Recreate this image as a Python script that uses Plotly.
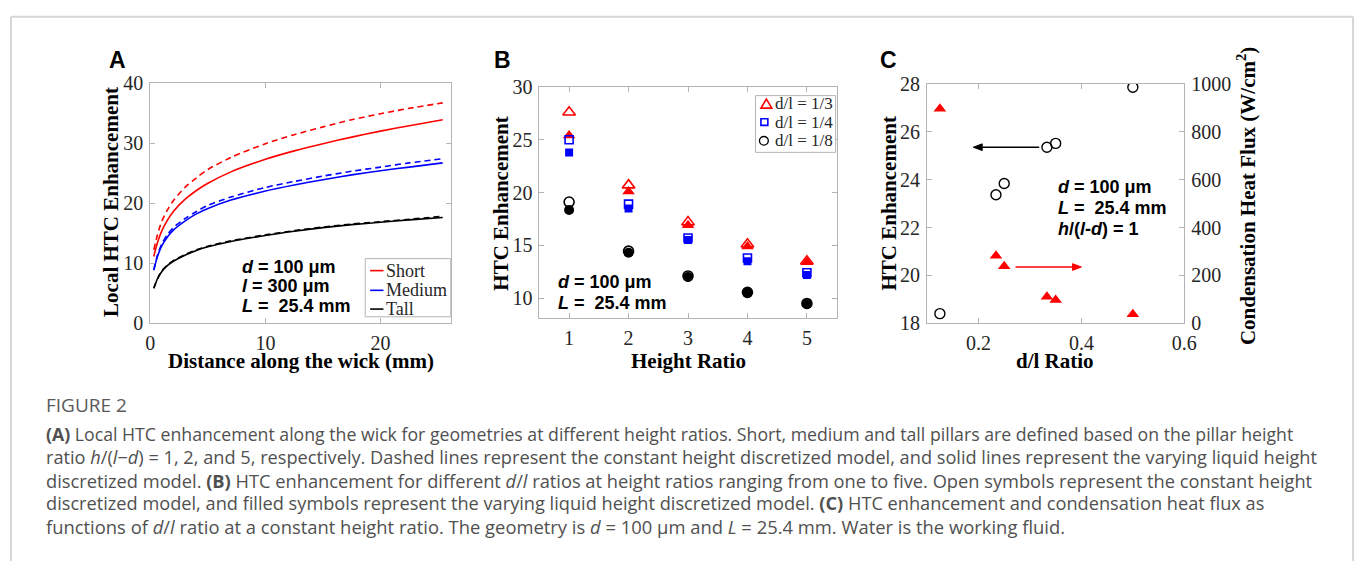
import plotly.graph_objects as go

W, H = 1370, 572
SERIF = "Liberation Serif"
SANS = "Liberation Sans"
BOX = "#b4b4b4"
TXT = "#262626"

# ---------------- Panel A data ----------------
dist_mm = [0.3, 0.6, 1, 1.5, 2, 3, 4, 5, 7, 10, 12.5, 15, 17.5, 20, 22.5, 25.4]
short_vary = [11.1, 13.3, 15.4, 17.2, 18.6, 20.6, 22.1, 23.3, 25.2, 27.3, 28.7, 29.9, 31.0, 32.0, 32.9, 33.9]
short_const = [12.2, 14.6, 17.0, 18.9, 20.4, 22.6, 24.2, 25.6, 27.6, 29.9, 31.4, 32.7, 33.9, 34.9, 35.8, 36.7]
medium_vary = [8.8, 11.0, 12.9, 14.4, 15.5, 17.0, 18.2, 19.1, 20.5, 22.0, 23.0, 23.9, 24.7, 25.4, 26.0, 26.7]
medium_const = [8.9, 11.2, 13.2, 14.8, 15.9, 17.4, 18.6, 19.6, 21.0, 22.6, 23.6, 24.5, 25.3, 26.0, 26.7, 27.4]
tall_vary = [5.8, 7.3, 8.6, 9.6, 10.3, 11.3, 12.1, 12.7, 13.6, 14.6, 15.3, 15.9, 16.4, 16.8, 17.2, 17.6]
tall_const = [5.8, 7.3, 8.7, 9.7, 10.4, 11.4, 12.2, 12.8, 13.7, 14.7, 15.4, 16.0, 16.5, 16.9, 17.3, 17.8]
legend_a = ["Short", "Medium", "Tall"]

# ---------------- Panel B data ----------------
height_ratio = [1, 2, 3, 4, 5]
b13_const = [27.6, 20.7, 17.2, 15.1, 13.5]
b13_vary = [25.4, 20.1, 16.9, 14.9, 13.4]
b14_const = [25.0, 18.9, 15.7, 13.8, 12.4]
b14_vary = [23.8, 18.5, 15.5, 13.5, 12.2]
b18_const = [19.1, 14.45, 12.1, 10.55, 9.5]
b18_vary = [18.35, 14.3, 12.0, 10.5, 9.45]
legend_b = ["d/l = 1/3", "d/l = 1/4", "d/l = 1/8"]

# ---------------- Panel C data ----------------
dl_ratio = [0.125, 0.234, 0.25, 0.333, 0.35, 0.5]
c_htc = [18.4, 23.37, 23.84, 25.36, 25.52, 27.87]
c_flux = [897, 282, 238, 111, 97, 38]

c_x_ticks = [0.2, 0.4, 0.6]
c_x_ticktext = ["0.2", "0.4", "0.6"]


def fx(px):
    return px / W


def fy(py):
    return 1 - py / H


fig = go.Figure()

# Panel A traces
for name, yv, yc, col in [("Short", short_vary, short_const, "#ff0000"),
                          ("Medium", medium_vary, medium_const, "#0000ff"),
                          ("Tall", tall_vary, tall_const, "#000000")]:
    fig.add_trace(go.Scatter(x=dist_mm, y=yc, mode="lines", xaxis="x", yaxis="y",
                             line=dict(color=col, width=1.6, dash="6px,4px", shape="spline", smoothing=0.8),
                             showlegend=False, name=name + " (constant height)"))
    fig.add_trace(go.Scatter(x=dist_mm, y=yv, mode="lines", xaxis="x", yaxis="y",
                             line=dict(color=col, width=1.6, shape="spline", smoothing=0.8),
                             showlegend=False, name=name))

# Panel B traces
for yconst, yvary, col, sym, size in [(b13_const, b13_vary, "#ff0000", "triangle-up", 11),
                                       (b14_const, b14_vary, "#0000ff", "square", 8),
                                       (b18_const, b18_vary, "#000000", "circle", 10)]:
    fig.add_trace(go.Scatter(x=height_ratio, y=yconst, mode="markers", xaxis="x2", yaxis="y2",
                             marker=dict(symbol=sym + "-open", size=size, color=col, line=dict(width=1.6, color=col)),
                             showlegend=False))
    fig.add_trace(go.Scatter(x=height_ratio, y=yvary, mode="markers", xaxis="x2", yaxis="y2",
                             marker=dict(symbol=sym, size=size, color=col, line=dict(width=0)),
                             showlegend=False))

# Panel C traces
fig.add_trace(go.Scatter(x=dl_ratio, y=c_htc, mode="markers", xaxis="x3", yaxis="y3",
                         marker=dict(symbol="circle-open", size=10, color="#000000", line=dict(width=1.4)),
                         showlegend=False, name="HTC Enhancement"))
fig.add_trace(go.Scatter(x=dl_ratio, y=c_flux, mode="markers", xaxis="x3", yaxis="y4",
                         marker=dict(symbol="triangle-up", size=11, color="#ff0000"),
                         showlegend=False, name="Condensation Heat Flux"))


def axstyle(**kw):
    d = dict(showline=True, linecolor=BOX, linewidth=1, mirror="ticks", ticks="inside",
             ticklen=5, tickcolor=BOX, tickwidth=1, showgrid=False, zeroline=False,
             tickfont=dict(family=SERIF, size=20, color=TXT), ticklabelstandoff=2)
    d.update(kw)
    return d


fig.update_layout(
    width=W, height=H, margin=dict(l=0, r=0, t=0, b=0),
    paper_bgcolor="white", plot_bgcolor="white", showlegend=False,
    xaxis=axstyle(domain=[fx(147.3), fx(451.7)], range=[0, 26.1], tickvals=[0, 10, 20], anchor="y"),
    yaxis=axstyle(domain=[fy(324.5), fy(75)], range=[0, 40], tickvals=[0, 10, 20, 30, 40], anchor="x"),
    xaxis2=axstyle(domain=[fx(541.5), fx(842.7)], range=[0.5, 5.5], tickvals=height_ratio, anchor="y2"),
    yaxis2=axstyle(domain=[fy(319.5), fy(79)], range=[8.1, 30], tickvals=[10, 15, 20, 25, 30], anchor="x2"),
    xaxis3=axstyle(domain=[fx(934.3), fx(1195)], range=[0.1, 0.6], tickvals=c_x_ticks,
                   ticktext=c_x_ticktext, anchor="y3"),
    yaxis3=axstyle(domain=[fy(324.7), fy(76)], range=[18, 28], tickvals=[18, 20, 22, 24, 26, 28],
                   anchor="x3", mirror=False),
    yaxis4=axstyle(domain=[fy(324.7), fy(76)], range=[0, 1000], tickvals=[0, 200, 400, 600, 800, 1000],
                   anchor="x3", overlaying="y3", side="right", mirror=False),
)

ann = []


def text(px, py, t, size, family=SERIF, color="black", xanchor="center", yanchor="middle", angle=0):
    ann.append(dict(x=fx(px), y=fy(py), xref="paper", yref="paper", text=t, showarrow=False,
                    xanchor=xanchor, yanchor=yanchor, textangle=angle,
                    font=dict(family=family, size=size, color=color)))


# Panel labels
text(114, 51, "<b>A</b>", 23, SANS)
text(504, 51, "<b>B</b>", 23, SANS)
text(895, 51, "<b>C</b>", 23, SANS)

# Axis titles
text(108, 199, "<b>Local HTC Enhancement</b>", 21, angle=-90)
text(299.5, 364, "<b>Distance along the wick (mm)</b>", 21)
text(503, 200, "<b>HTC Enhancement</b>", 21, angle=-90)
text(692.5, 364, "<b>Height Ratio</b>", 21)
text(896, 200, "<b>HTC Enhancement</b>", 21, angle=-90)
text(1064, 364, "<b>d/l Ratio</b>", 21)
text(1258, 192, "<b>Condensation Heat Flux (W/cm<sup>2</sup>)</b>", 21, angle=-90)

# In-panel parameter text
nb = "\u00a0"
text(238, 266, "<b><i>d</i> = 100 μm</b>", 18, SANS, xanchor="left")
text(238, 286.5, "<b><i>l</i> = 300 μm</b>", 18, SANS, xanchor="left")
text(238, 307, f"<b><i>L</i> ={nb} 25.4 mm</b>", 18, SANS, xanchor="left")
text(558, 282, "<b><i>d</i> = 100 μm</b>", 18, SANS, xanchor="left")
text(558, 303.5, f"<b><i>L</i> ={nb} 25.4 mm</b>", 18, SANS, xanchor="left")
text(1065, 183.5, "<b><i>d</i> = 100 μm</b>", 18, SANS, xanchor="left")
text(1065, 205, f"<b><i>L</i> ={nb} 25.4 mm</b>", 18, SANS, xanchor="left")
text(1065, 226.7, "<b><i>h</i>/(<i>l</i>-<i>d</i>) = 1</b>", 18, SANS, xanchor="left")

shapes = []


def pshape(**kw):
    kw.setdefault("xref", "paper")
    kw.setdefault("yref", "paper")
    shapes.append(kw)


# Panel C arrows (line + head), in the panel's own axes
def arrow(x_tail, x_head, yv, yref, ypp, col):
    xpp = 0.5 / (1195 - 934.3)          # d/l units per pixel
    hl, hw = 9 * xpp, 3.5 * ypp
    sgn = 1 if x_head > x_tail else -1
    base = x_head - sgn * hl
    pshape(type="line", xref="x3", yref=yref, x0=x_tail, x1=base, y0=yv, y1=yv,
           line=dict(color=col, width=1.6))
    pshape(type="path", xref="x3", yref=yref,
           path=f"M {x_head} {yv} L {base} {yv + hw} L {base} {yv - hw} Z",
           line=dict(color=col, width=1), fillcolor=col)


arrow(0.318, 0.19, 25.36, "y3", 10 / 248.7, "black")
arrow(0.272, 0.40, 235, "y4", 1000 / 248.7, "#ff0000")

# Panel A legend (manual)
pshape(type="rect", x0=fx(365), x1=fx(451.7), y0=fy(318), y1=fy(257.5),
       line=dict(color=BOX, width=1), fillcolor="white")
for name, col, py in zip(legend_a, ["#ff0000", "#0000ff", "#000000"], [270, 290.5, 310]):
    pshape(type="line", x0=fx(370), x1=fx(383.5), y0=fy(py), y1=fy(py), line=dict(color=col, width=1.6))
    text(384.5, py, name, 18, SERIF, TXT, xanchor="left")

# Panel B legend (manual)
pshape(type="rect", x0=fx(760.5), x1=fx(841.7), y0=fy(147), y1=fy(88),
       line=dict(color=BOX, width=1), fillcolor="white")
tx, ty = 771.5, 96.5
pshape(type="path",
       path=f"M {fx(tx-5.5)} {fy(ty+4.5)} L {fx(tx+5.5)} {fy(ty+4.5)} L {fx(tx)} {fy(ty-5)} Z",
       line=dict(color="#ff0000", width=1.6))
pshape(type="rect", x0=fx(766), x1=fx(773), y0=fy(119), y1=fy(112), line=dict(color="#0000ff", width=1.6))
pshape(type="circle", x0=fx(764.5), x1=fx(773.5), y0=fy(139.5), y1=fy(130.5), line=dict(color="#000000", width=1.3))
for name, py in zip(legend_b, [96, 115.5, 135]):
    text(778, py, name, 17, SERIF, TXT, xanchor="left")

# Page border
BORDER = "#d6d6d6"
pshape(type="line", x0=fx(6), x1=fx(1366), y0=fy(6), y1=fy(6), line=dict(color=BORDER, width=2))
pshape(type="line", x0=fx(6), x1=fx(6), y0=fy(6), y1=fy(572), line=dict(color=BORDER, width=2))
pshape(type="line", x0=fx(1366), x1=fx(1366), y0=fy(6), y1=fy(572), line=dict(color=BORDER, width=2))

# Caption
CAP = "Open Sans"
CAPC = "#505050"
text(40, 410, "FIGURE 2", 19, CAP, "#5a5a5a", xanchor="left")
cap_lines = [
    "<b>(A)</b> Local HTC enhancement along the wick for geometries at different height ratios. Short, medium and tall pillars are defined based on the pillar height",
    "ratio <i>h</i>/(<i>l</i>\u2212<i>d</i>) = 1, 2, and 5, respectively. Dashed lines represent the constant height discretized model, and solid lines represent the varying liquid height",
    "discretized model. <b>(B)</b> HTC enhancement for different <i>d</i>/<i>l</i> ratios at height ratios ranging from one to five. Open symbols represent the constant height",
    "discretized model, and filled symbols represent the varying liquid height discretized model. <b>(C)</b> HTC enhancement and condensation heat flux as",
    "functions of <i>d</i>/<i>l</i> ratio at a constant height ratio. The geometry is <i>d</i> = 100 μm and <i>L</i> = 25.4 mm. Water is the working fluid.",
]
cap_sizes = [17.7, 18.2, 18.25, 18.2, 18.4]
for i, (line, sz) in enumerate(zip(cap_lines, cap_sizes)):
    text(40, 440 + 24 * i, line, sz, CAP, CAPC, xanchor="left")

fig.update_layout(annotations=ann, shapes=shapes)
fig.write_html("out.html")
